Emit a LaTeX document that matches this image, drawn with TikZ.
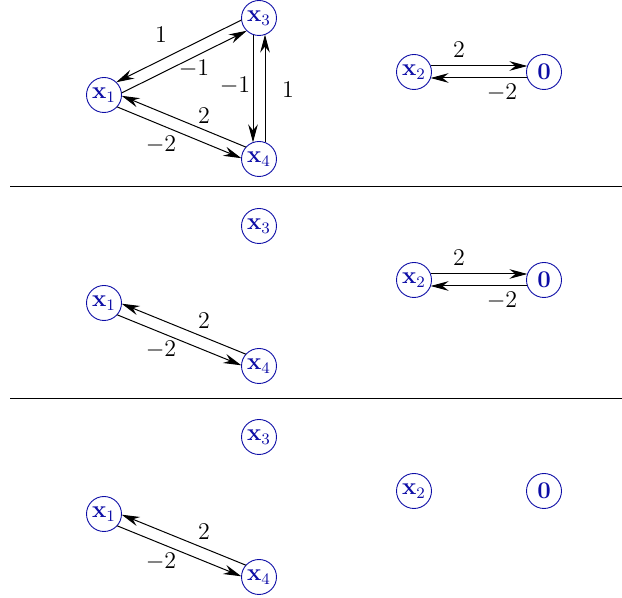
\documentclass[tikz,border=0pt]{standalone}
\usetikzlibrary{arrows.meta,calc}
\definecolor{nodecol}{rgb}{0.05,0.05,0.65}
\tikzset{
  vnode/.style={circle,draw=nodecol,text=nodecol,minimum size=17.5pt,inner sep=0pt,line width=0.45pt},
  arr/.style={-{Stealth[length=9pt,width=4.8pt,inset=3pt]},line width=0.5pt,shorten <=8.3pt,shorten >=8.3pt},
  sep/.style={line width=0.5pt,black},
  lab/.style={inner sep=0pt}
}
\newcommand\pedge[4]{\draw[arr] ($(#1)!3pt!#3:(#2)$) -- ($(#2)!3pt!#4:(#1)$);}
\begin{document}
\begin{tikzpicture}[x=0.5pt,y=-0.5pt,font=\fontsize{12}{14}\selectfont]
\useasboundingbox (0,0) rectangle (622,598);
% panel 1
\node[vnode] (a1) at (104,95) {$\mathbf{x}_1$};
\node[vnode] (a3) at (259,18) {$\mathbf{x}_3$};
\node[vnode] (a4) at (259,159) {$\mathbf{x}_4$};
\node[vnode] (a2) at (414,72) {$\mathbf{x}_2$};
\node[vnode] (a0) at (544,72) {$\mathbf{0}$};
\pedge{a3}{a1}{-90}{90}
\pedge{a1}{a3}{-90}{90}
\pedge{a3}{a4}{-90}{90}
\pedge{a4}{a3}{-90}{90}
\pedge{a4}{a1}{-90}{90}
\pedge{a1}{a4}{-90}{90}
\pedge{a2}{a0}{90}{-90}
\pedge{a0}{a2}{90}{-90}
\node[lab] (la1) at (161,35) {$1$};
\node[lab] (la2) at (194,69) {$-1$};
\node[lab] (la3) at (235,86) {$-1$};
\node[lab] (la4) at (288,90) {$1$};
\node[lab] (la5) at (204,116) {$2$};
\node[lab] (la6) at (161,145) {$-2$};
\node[lab] (la7) at (459,50) {$2$};
\node[lab] (la8) at (502,93) {$-2$};
\coordinate (s1a) at (10,187);
\coordinate (s1b) at (622,187);
\draw[sep] (s1a) -- (s1b);
% panel 2
\node[vnode] (b1) at (104,303) {$\mathbf{x}_1$};
\node[vnode] (b3) at (259,226) {$\mathbf{x}_3$};
\node[vnode] (b4) at (259,366) {$\mathbf{x}_4$};
\node[vnode] (b2) at (414,280) {$\mathbf{x}_2$};
\node[vnode] (b0) at (544,280) {$\mathbf{0}$};
\pedge{b4}{b1}{-90}{90}
\pedge{b1}{b4}{-90}{90}
\pedge{b2}{b0}{90}{-90}
\pedge{b0}{b2}{90}{-90}
\node[lab] (lb5) at (204,321) {$2$};
\node[lab] (lb6) at (161,350) {$-2$};
\node[lab] (lb7) at (459,258) {$2$};
\node[lab] (lb8) at (502,301) {$-2$};
\coordinate (s2a) at (10,399);
\coordinate (s2b) at (622,399);
\draw[sep] (s2a) -- (s2b);
% panel 3
\node[vnode] (c1) at (104,514) {$\mathbf{x}_1$};
\node[vnode] (c3) at (259,437) {$\mathbf{x}_3$};
\node[vnode] (c4) at (259,577) {$\mathbf{x}_4$};
\node[vnode] (c2) at (414,491) {$\mathbf{x}_2$};
\node[vnode] (c0) at (544,491) {$\mathbf{0}$};
\pedge{c4}{c1}{-90}{90}
\pedge{c1}{c4}{-90}{90}
\node[lab] (lc5) at (204,532) {$2$};
\node[lab] (lc6) at (161,562) {$-2$};
\end{tikzpicture}
\end{document}
